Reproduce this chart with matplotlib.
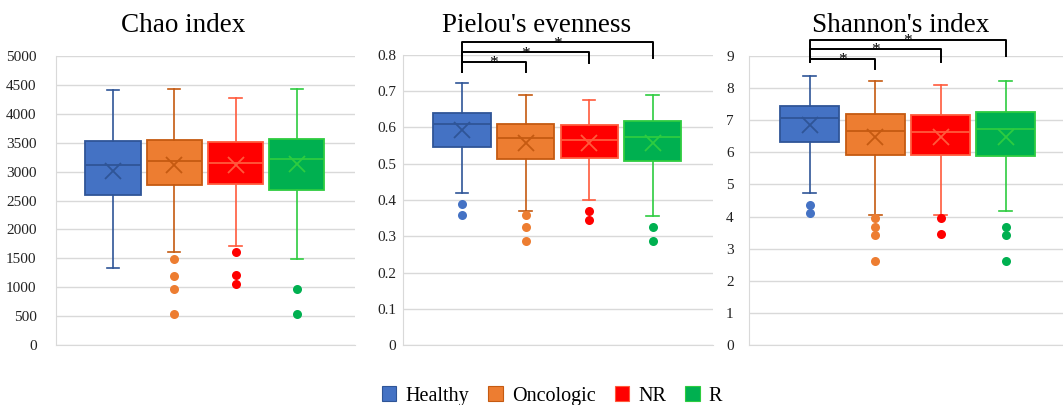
import matplotlib
matplotlib.use("Agg")
import matplotlib.pyplot as plt
from matplotlib.patches import Patch

plt.rcParams['font.family'] = ['Liberation Serif', 'DejaVu Serif']

groups = ["Healthy", "Oncologic", "NR", "R"]
fill_colors = ["#4472C4", "#ED7D31", "#FF0000", "#00B050"]
edge_colors = ["#2F5597", "#C55A11", "#FF5A3C", "#2ECC40"]

# Chao index
chao_q1 = [2598, 2771, 2788, 2690]
chao_med = [3122, 3180, 3145, 3214]
chao_q3 = [3537, 3548, 3519, 3571]
chao_lo = [1331, 1607, 1705, 1486]
chao_hi = [4406, 4435, 4280, 4435]
chao_mean = [3013, 3122, 3122, 3139]
chao_out = [[], [1492, 1198, 973, 536], [1607, 1204, 1054], [973, 536]]

# Pielou's evenness
piel_q1 = [0.545, 0.512, 0.516, 0.508]
piel_med = [0.611, 0.570, 0.566, 0.575]
piel_q3 = [0.639, 0.611, 0.608, 0.619]
piel_lo = [0.419, 0.371, 0.399, 0.356]
piel_hi = [0.722, 0.689, 0.676, 0.689]
piel_mean = [0.594, 0.556, 0.556, 0.556]
piel_out = [[0.390, 0.358], [0.358, 0.326, 0.288], [0.370, 0.344], [0.326, 0.288]]

# Shannon's index
shan_q1 = [6.33, 5.91, 5.93, 5.89]
shan_med = [7.08, 6.66, 6.64, 6.72]
shan_q3 = [7.44, 7.19, 7.17, 7.25]
shan_lo = [4.73, 4.06, 4.06, 4.17]
shan_hi = [8.38, 8.23, 8.10, 8.23]
shan_mean = [6.85, 6.47, 6.47, 6.47]
shan_out = [[4.35, 4.10], [3.97, 3.69, 3.43, 2.63], [3.95, 3.46], [3.69, 3.43, 2.63]]

# significance brackets: (target group index, bar height, right drop level)
piel_brackets = [(1, 0.781, 0.753), (2, 0.808, 0.778), (3, 0.836, 0.792)]
piel_left_drop = 0.753
shan_brackets = [(1, 8.91, 8.60), (2, 9.22, 8.82), (3, 9.50, 9.00)]
shan_left_drop = 8.82

W, H = 1063, 405
fig = plt.figure(figsize=(W / 100, H / 100), dpi=100)

panels = [
    dict(title="Chao index", tx=183, rect=(56, 345, 299, 289), ylim=(0, 5000), step=500,
         fmt=lambda v: f"{int(v)}", pad=14,
         q1=chao_q1, med=chao_med, q3=chao_q3, lo=chao_lo, hi=chao_hi, mean=chao_mean, out=chao_out,
         br=None, bl=None),
    dict(title="Pielou's evenness", tx=537, rect=(403, 345, 310, 290), ylim=(0, 0.8), step=0.1,
         fmt=lambda v: "0" if abs(v) < 1e-9 else f"{v:.1f}", pad=5,
         q1=piel_q1, med=piel_med, q3=piel_q3, lo=piel_lo, hi=piel_hi, mean=piel_mean, out=piel_out,
         br=piel_brackets, bl=piel_left_drop),
    dict(title="Shannon's index", tx=901, rect=(749, 345, 319, 289), ylim=(0, 9), step=1,
         fmt=lambda v: f"{int(round(v))}", pad=11,
         q1=shan_q1, med=shan_med, q3=shan_q3, lo=shan_lo, hi=shan_hi, mean=shan_mean, out=shan_out,
         br=shan_brackets, bl=shan_left_drop),
]

positions = [1, 2, 3, 4]
for p in panels:
    left, bottom, w, h = p["rect"]
    ax = fig.add_axes([left / W, (H - bottom) / H, w / W, h / H])
    stats = []
    for i in range(4):
        stats.append(dict(med=p["med"][i], q1=p["q1"][i], q3=p["q3"][i],
                          whislo=p["lo"][i], whishi=p["hi"][i],
                          mean=p["mean"][i], fliers=p["out"][i], label=groups[i]))
    for i in range(4):
        ec = edge_colors[i]
        ax.bxp([stats[i]], positions=[positions[i]], widths=0.9, patch_artist=True,
               showmeans=True, showfliers=True, capwidths=[0.2],
               boxprops=dict(facecolor=fill_colors[i], edgecolor=ec, linewidth=1.3),
               medianprops=dict(color=ec, linewidth=1.3),
               whiskerprops=dict(color=ec, linewidth=1.2),
               capprops=dict(color=ec, linewidth=1.2),
               meanprops=dict(marker='x', markeredgecolor=ec, markersize=11, markeredgewidth=1.3),
               flierprops=dict(marker='o', markerfacecolor=fill_colors[i], markeredgecolor='none',
                               markersize=6.5))
    ax.set_xlim(0.07, 4.95)
    ymin, ymax = p["ylim"]
    ax.set_ylim(ymin, ymax)
    n = int(round((ymax - ymin) / p["step"]))
    ticks = [ymin + k * p["step"] for k in range(n + 1)]
    ax.set_yticks(ticks)
    ax.set_yticklabels([p["fmt"](t) for t in ticks])
    ax.set_xticks([])
    ax.tick_params(axis='y', length=0, pad=p["pad"], labelsize=11, labelcolor="#222222")
    ax.yaxis.grid(True, color="#D9D9D9", linewidth=1.0)
    ax.set_axisbelow(True)
    for s in ["top", "right"]:
        ax.spines[s].set_visible(False)
    ax.spines["left"].set_color("#D9D9D9")
    ax.spines["bottom"].set_color("#D9D9D9")
    ax.patch.set_alpha(0)

    fig.text(p["tx"] / W, (H - 32) / H, p["title"], ha="center", va="baseline", fontsize=19.5)

    if p["br"]:
        x0 = positions[0]
        for (j, hgt, rdrop) in p["br"]:
            x1 = positions[j]
            ax.plot([x0, x0, x1, x1], [p["bl"], hgt, hgt, rdrop], color="black",
                    linewidth=1.4, clip_on=False, solid_joinstyle="round")
            ax.annotate("*", xy=((x0 + x1) / 2, hgt), xytext=(0, -4), textcoords="offset points",
                        ha="center", va="baseline", fontsize=12.5, annotation_clip=False)

handles = [Patch(facecolor=fill_colors[i], edgecolor=edge_colors[i], linewidth=0.8) for i in range(4)]
fig.legend(handles, groups, loc="center", bbox_to_anchor=(552 / W, 9 / H), ncol=4,
           frameon=False, fontsize=14.5, handlelength=0.72, handleheight=0.72,
           handletextpad=0.45, columnspacing=0.95, borderaxespad=0)

fig.savefig("out.png", dpi=100)
